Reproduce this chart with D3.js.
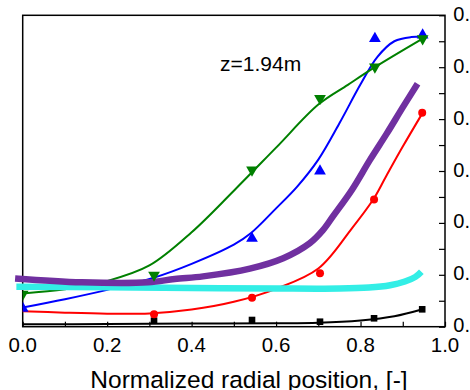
<!DOCTYPE html>
<html>
<head>
<meta charset="utf-8">
<script src="https://cdn.jsdelivr.net/npm/d3@7"></script>
<style>
  html, body { margin: 0; padding: 0; background: #fff; }
  svg { display: block; font-family: "Liberation Sans", Arial, sans-serif; }
</style>
</head>
<body>
<svg id="chart" width="470" height="390"></svg>
<script>
// ---- data ----
const xTicks = [0, 0.2, 0.4, 0.6, 0.8, 1.0];
const xTickLabels = ["0.0", "0.2", "0.4", "0.6", "0.8", "1.0"];
const yTicks = [0, 0.1, 0.2, 0.3, 0.4, 0.5, 0.6];
const yTickLabels = ["0.0", "0.1", "0.2", "0.3", "0.4", "0.5", "0.6"];
const annotation = "z=1.94m";
const xTitle = "Normalized radial position, [-]";

// measured points (markers)
const blackPts = [[0.311, 0.0116], [0.543, 0.0129], [0.704, 0.0096], [0.832, 0.0162], [0.946, 0.0335]];
const redPts   = [[0.311, 0.0239], [0.543, 0.0558], [0.704, 0.1028], [0.832, 0.2453], [0.946, 0.412]];
const bluePts  = [[0.0, 0.0354], [0.543, 0.170], [0.704, 0.300], [0.834, 0.555], [0.947, 0.562]];
const greenPts = [[0.0, 0.0628], [0.311, 0.0995], [0.543, 0.302], [0.704, 0.44], [0.834, 0.5007], [0.947, 0.555]];

// fitted / model curves
const blackCurve = [[0, 0.0045], [0.2, 0.005], [0.4, 0.006], [0.6, 0.0065], [0.7, 0.0075], [0.8, 0.012], [0.88, 0.02], [0.947, 0.0335]];
const redCurve = [[0, 0.030], [0.1, 0.027], [0.2, 0.025], [0.3, 0.0255], [0.4, 0.033], [0.5, 0.048], [0.6, 0.073], [0.7, 0.112], [0.78, 0.19], [0.83, 0.245], [0.86, 0.289], [0.9, 0.347], [0.947, 0.412]];
const blueCurve = [[0, 0.037], [0.1, 0.053], [0.2, 0.071], [0.313, 0.095], [0.4, 0.121], [0.5, 0.158], [0.54, 0.18], [0.6, 0.228], [0.65, 0.27], [0.7, 0.322], [0.75, 0.392], [0.8, 0.467], [0.84, 0.52], [0.88, 0.55], [0.92, 0.558], [0.947, 0.558]];
const greenCurve = [[0, 0.064], [0.1, 0.072], [0.2, 0.088], [0.3, 0.118], [0.4, 0.182], [0.5, 0.262], [0.6, 0.345], [0.7, 0.428], [0.77, 0.466], [0.834, 0.5], [0.947, 0.555]];
const purpleCurve = [[-0.018, 0.093], [0.14, 0.0855], [0.297, 0.0855], [0.36, 0.092], [0.427, 0.097], [0.538, 0.112], [0.617, 0.132], [0.68, 0.161], [0.711, 0.186], [0.735, 0.213], [0.779, 0.263], [0.822, 0.321], [0.862, 0.372], [0.901, 0.424], [0.935, 0.468]];
const cyanCurve = [[-0.015, 0.077], [0.2, 0.076], [0.4, 0.0745], [0.6, 0.0735], [0.75, 0.0735], [0.82, 0.0755], [0.87, 0.08], [0.905, 0.087], [0.93, 0.096], [0.944, 0.106]];

// ---- layout ----
const L = 22.7, R = 445, T = 15.3, B = 326.7;
const svg = d3.select("#chart");
const x = d3.scaleLinear().domain([0, 1]).range([L, R]);
const y = d3.scaleLinear().domain([0, 0.6]).range([B, T]);

svg.append("defs").append("clipPath").attr("id", "plotclip")
  .append("rect").attr("x", L).attr("y", 0).attr("width", R - L + 20).attr("height", B);

// frame
svg.append("rect").attr("x", L).attr("y", T).attr("width", R - L).attr("height", B - T)
  .attr("fill", "none").attr("stroke", "#000").attr("stroke-width", 1.5);

// bottom axis (inward ticks)
const xMinor = d3.range(0, 1.0001, 0.1);
const xAxis = d3.axisBottom(x).tickValues(xMinor).tickSize(-5).tickFormat(() => "");
const gx = svg.append("g").attr("transform", `translate(0,${B})`).call(xAxis);
gx.select(".domain").remove();
gx.selectAll(".tick line").attr("stroke", "#000").attr("stroke-width", 1.2);
svg.append("g").selectAll("text").data(xTicks).join("text")
  .attr("x", d => x(d)).attr("y", 351.7).attr("text-anchor", "middle")
  .attr("font-size", 20.5).attr("fill", "#000")
  .text((d, i) => xTickLabels[i]);

// right axis (inward ticks)
const yMinor = d3.range(0, 0.6001, 0.05);
const yAxis = d3.axisRight(y).tickValues(yMinor).tickSize(-6).tickFormat(() => "");
const gy = svg.append("g").attr("transform", `translate(${R},0)`).call(yAxis);
gy.select(".domain").remove();
gy.selectAll(".tick line").attr("stroke", "#000").attr("stroke-width", 1.2);
svg.append("g").selectAll("text").data(yTicks).join("text")
  .attr("x", 453.3).attr("y", d => y(d) + 5.5).attr("text-anchor", "start")
  .attr("font-size", 20).attr("fill", "#000")
  .text((d, i) => yTickLabels[i]);

// axis title
svg.append("text").attr("x", 249).attr("y", 387.5).attr("text-anchor", "middle")
  .attr("font-size", 24.5).attr("fill", "#000").text(xTitle);

// annotation
svg.append("text").attr("x", 220).attr("y", 70.7).attr("font-size", 21)
  .attr("fill", "#000").text(annotation);

// ---- lines ----
const line = d3.line().x(d => x(d[0])).y(d => y(d[1])).curve(d3.curveCatmullRom.alpha(0.5));
const thin = [
  [blackCurve, "#000000"],
  [redCurve, "#ff0000"],
  [blueCurve, "#0000ff"],
  [greenCurve, "#008000"]
];
thin.forEach(([data, c]) => {
  svg.append("path").datum(data).attr("d", line).attr("fill", "none")
    .attr("stroke", c).attr("stroke-width", 2);
});
const thick = [
  [cyanCurve, "#33eee6"],
  [purpleCurve, "#7030a0"]
];
thick.forEach(([data, c]) => {
  svg.append("path").datum(data).attr("d", line).attr("fill", "none")
    .attr("stroke", c).attr("stroke-width", 6.5);
});

// ---- markers ----
const mk = svg.append("g").attr("clip-path", "url(#plotclip)");
mk.selectAll(".sq").data(blackPts).join("rect").attr("class", "sq")
  .attr("x", d => x(d[0]) - 3.3).attr("y", d => y(d[1]) - 3.3)
  .attr("width", 6.6).attr("height", 6.6).attr("fill", "#000");
mk.selectAll(".ci").data(redPts).join("circle").attr("class", "ci")
  .attr("cx", d => x(d[0])).attr("cy", d => y(d[1])).attr("r", 4).attr("fill", "#ff0000");
const triUp = d3.symbol().type(d3.symbolTriangle).size(60);
mk.selectAll(".tu").data(bluePts).join("path").attr("class", "tu")
  .attr("d", triUp).attr("transform", d => `translate(${x(d[0])},${y(d[1])})`)
  .attr("fill", "#0000ff");
mk.selectAll(".td").data(greenPts).join("path").attr("class", "td")
  .attr("d", triUp).attr("transform", d => `translate(${x(d[0])},${y(d[1])}) rotate(180)`)
  .attr("fill", "#008000");
</script>
</body>
</html>
